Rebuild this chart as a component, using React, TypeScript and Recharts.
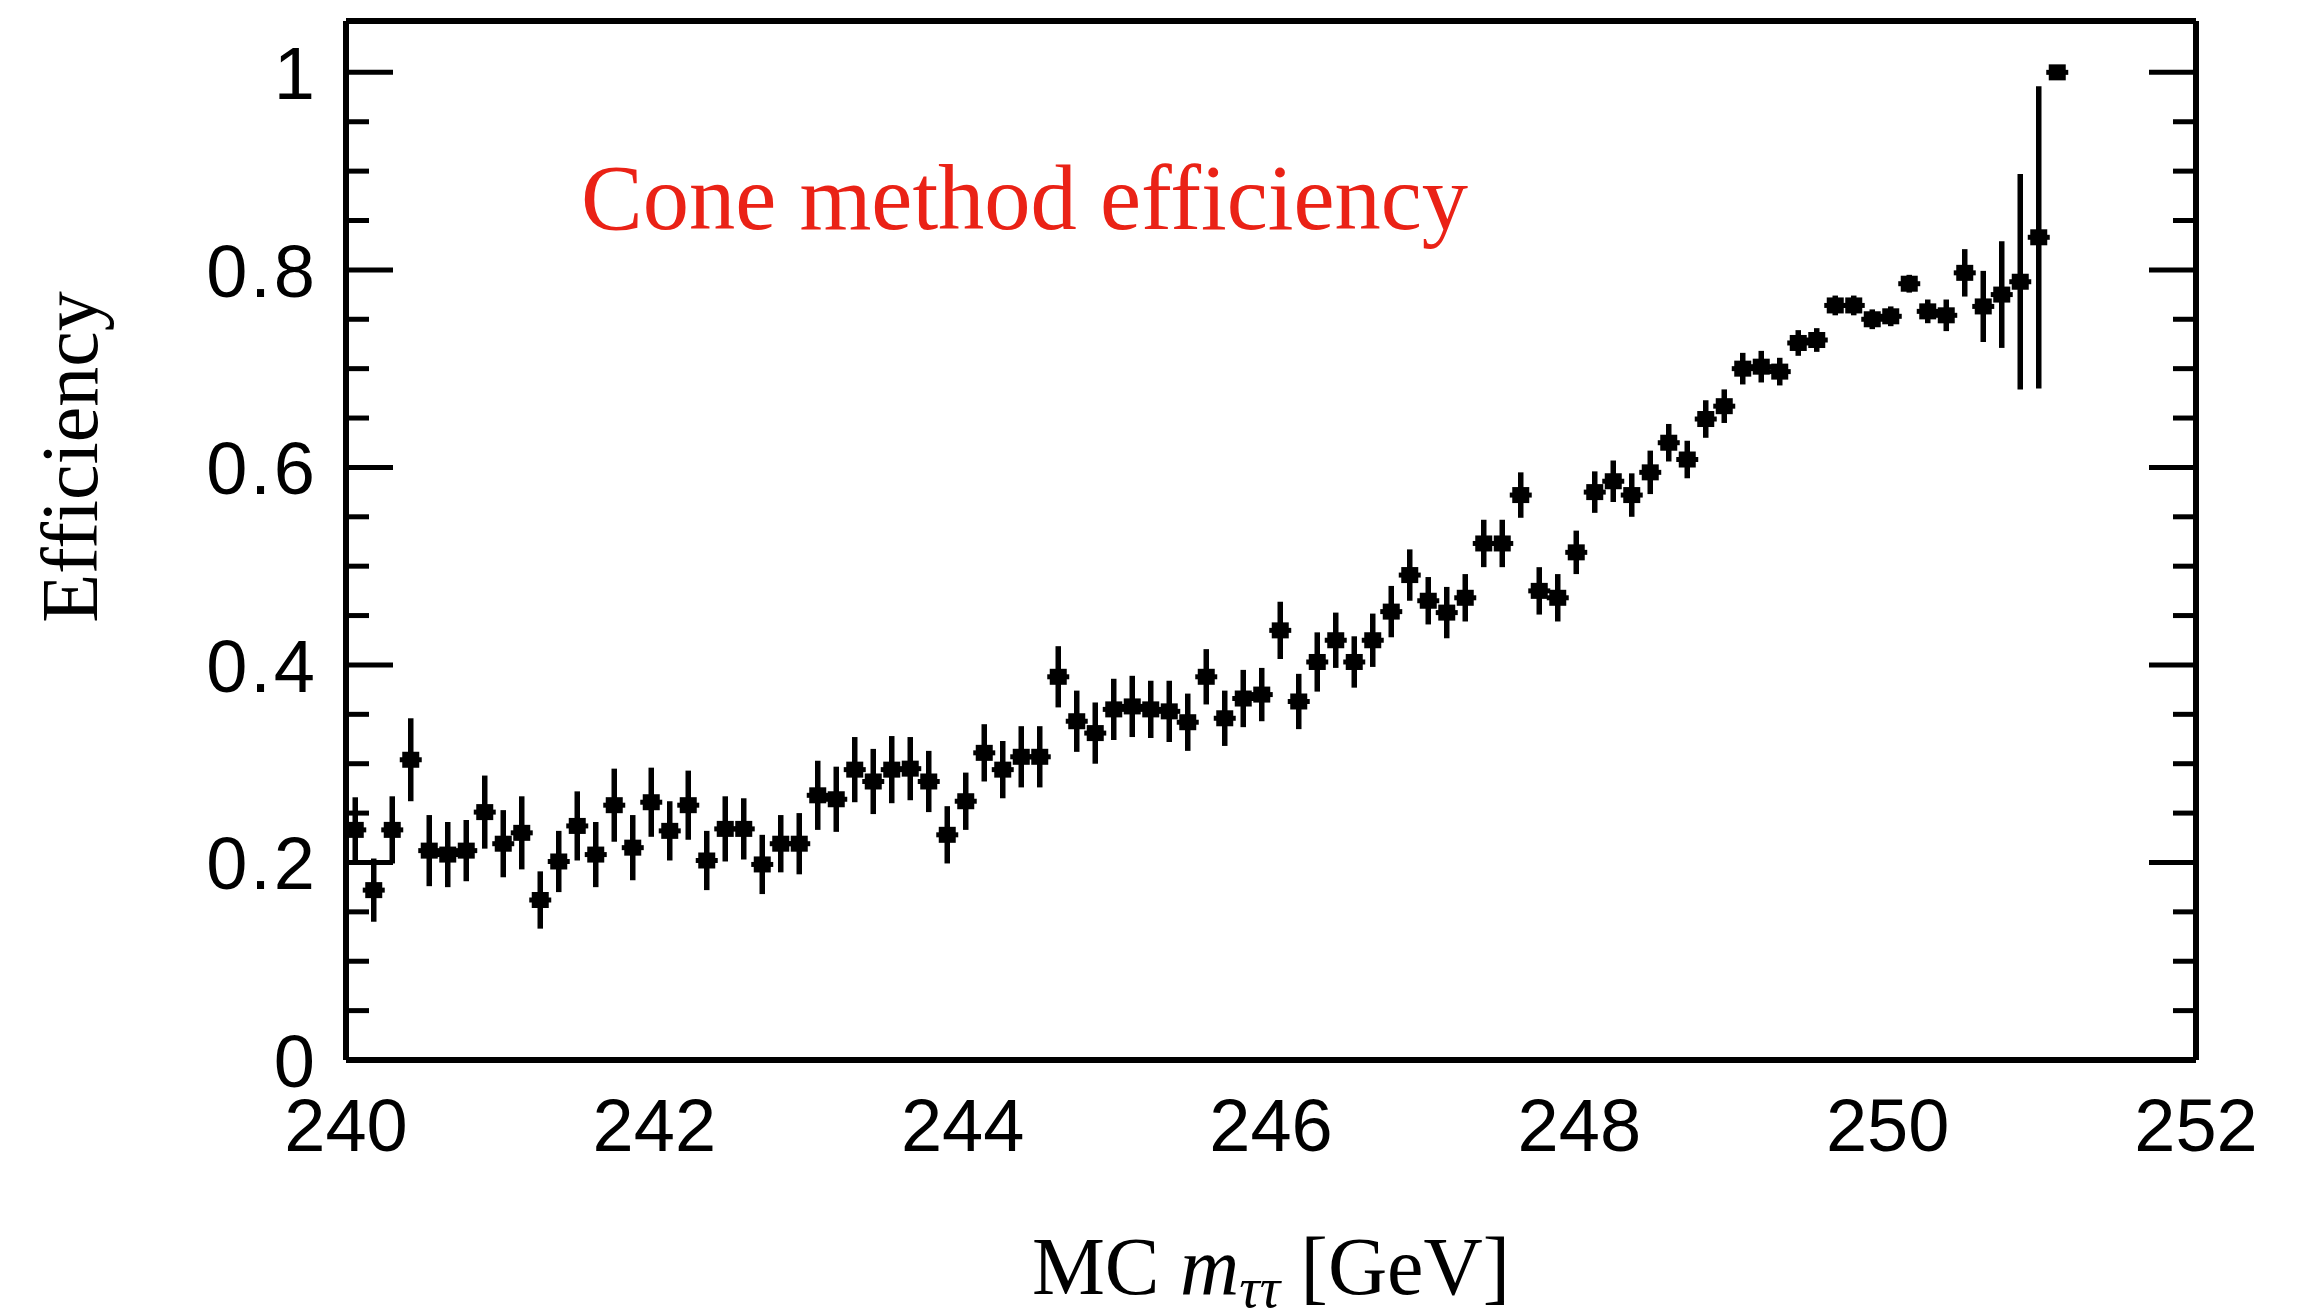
import React from "react";
import { ScatterChart, Scatter, XAxis, YAxis, ErrorBar } from "recharts";

const binCenters = [
  240.06, 240.18, 240.30, 240.42, 240.54, 240.66, 240.78, 240.90, 241.02, 241.14,
  241.26, 241.38, 241.50, 241.62, 241.74, 241.86, 241.98, 242.10, 242.22, 242.34,
  242.46, 242.58, 242.70, 242.82, 242.94, 243.06, 243.18, 243.30, 243.42, 243.54,
  243.66, 243.78, 243.90, 244.02, 244.14, 244.26, 244.38, 244.50, 244.62, 244.74,
  244.86, 244.98, 245.10, 245.22, 245.34, 245.46, 245.58, 245.70, 245.82, 245.94,
  246.06, 246.18, 246.30, 246.42, 246.54, 246.66, 246.78, 246.90, 247.02, 247.14,
  247.26, 247.38, 247.50, 247.62, 247.74, 247.86, 247.98, 248.10, 248.22, 248.34,
  248.46, 248.58, 248.70, 248.82, 248.94, 249.06, 249.18, 249.30, 249.42, 249.54,
  249.66, 249.78, 249.90, 250.02, 250.14, 250.26, 250.38, 250.50, 250.62, 250.74,
  250.86, 250.98, 251.10,
];

const efficiency = [
  0.233, 0.172, 0.233, 0.304, 0.212, 0.208, 0.212, 0.251, 0.219, 0.230,
  0.162, 0.201, 0.237, 0.208, 0.258, 0.215, 0.261, 0.232, 0.258, 0.202,
  0.234, 0.234, 0.198, 0.219, 0.219, 0.268, 0.264, 0.294, 0.282, 0.294,
  0.295, 0.282, 0.228, 0.262, 0.311, 0.294, 0.307, 0.307, 0.388, 0.343,
  0.331, 0.355, 0.358, 0.355, 0.353, 0.342, 0.388, 0.346, 0.366, 0.370,
  0.435, 0.363, 0.403, 0.425, 0.403, 0.425, 0.454, 0.491, 0.465, 0.453,
  0.468, 0.523, 0.523, 0.572, 0.475, 0.468, 0.514, 0.575, 0.586, 0.572,
  0.595, 0.625, 0.608, 0.649, 0.662, 0.700, 0.702, 0.697, 0.726, 0.729,
  0.764, 0.764, 0.750, 0.753, 0.786, 0.758, 0.754, 0.797, 0.763, 0.775,
  0.788, 0.833, 1.000,
];

const errors = [
  0.033, 0.032, 0.034, 0.042, 0.036, 0.033, 0.031, 0.037, 0.034, 0.037,
  0.029, 0.031, 0.035, 0.033, 0.037, 0.033, 0.035, 0.030, 0.035, 0.030,
  0.033, 0.031, 0.030, 0.029, 0.031, 0.035, 0.033, 0.033, 0.033, 0.034,
  0.032, 0.031, 0.029, 0.029, 0.029, 0.029, 0.031, 0.031, 0.031, 0.031,
  0.031, 0.031, 0.031, 0.029, 0.031, 0.029, 0.028, 0.028, 0.029, 0.027,
  0.029, 0.028, 0.030, 0.028, 0.026, 0.027, 0.026, 0.026, 0.024, 0.026,
  0.024, 0.024, 0.024, 0.023, 0.024, 0.024, 0.022, 0.021, 0.021, 0.022,
  0.022, 0.019, 0.019, 0.019, 0.017, 0.016, 0.016, 0.014, 0.013, 0.012,
  0.010, 0.010, 0.010, 0.010, 0.009, 0.012, 0.016, 0.024, 0.036, 0.054,
  0.109, 0.153, 0.0,
];

const xMajorTicks = [240, 242, 244, 246, 248, 250, 252];
const xMinorTicks = [
  240.5, 241, 241.5, 242.5, 243, 243.5, 244.5, 245, 245.5, 246.5, 247, 247.5,
  248.5, 249, 249.5, 250.5, 251, 251.5,
];
const yMajorTicks = [0, 0.2, 0.4, 0.6, 0.8, 1];
const yMinorTicks = [
  0.05, 0.1, 0.15, 0.25, 0.3, 0.35, 0.45, 0.5, 0.55, 0.65, 0.7, 0.75, 0.85, 0.9, 0.95,
];

const xDomain: [number, number] = [240, 252];
const yDomain: [number, number] = [0, 1.052];

const data = binCenters.map((x, i) => ({ x, y: efficiency[i], err: errors[i] }));

const SANS = "'Liberation Sans', Arial, Helvetica, sans-serif";
const SERIF = "'Liberation Serif', 'Times New Roman', serif";

const emptyTick = () => <g />;

const XLabelTick = (p: any) => (
  <text
    x={p.x}
    y={p.y + 91}
    textAnchor="middle"
    fontFamily={SANS}
    fontSize={74}
    fill="#000"
  >
    {p.payload.value}
  </text>
);

const YLabelTick = (p: any) => (
  <text
    x={p.x - 28}
    y={p.y}
    dy="0.36em"
    textAnchor="end"
    fontFamily={SANS}
    fontSize={74}
    letterSpacing={3}
    fill="#000"
  >
    {p.payload.value}
  </text>
);

const Marker = (p: any) => {
  const { cx, cy } = p;
  if (cx == null || cy == null) return <g />;
  return (
    <g>
      <line x1={cx - 11} x2={cx + 11} y1={cy} y2={cy} stroke="#000" strokeWidth={5} />
      <rect x={cx - 8.5} y={cy - 8} width={17} height={16} fill="#000" />
    </g>
  );
};

const axisLineStyle = { stroke: "#000", strokeWidth: 6 };

export default function App() {
  return (
    <div
      style={{
        position: "absolute",
        left: 0,
        top: 0,
        width: 2319,
        height: 1315,
        background: "#fff",
      }}
    >
      <ScatterChart
        width={2319}
        height={1315}
        margin={{ top: 21, right: 123, bottom: 255, left: 346 }}
      >
        <XAxis
          xAxisId="x"
          dataKey="x"
          type="number"
          domain={xDomain}
          allowDataOverflow
          ticks={xMajorTicks}
          orientation="bottom"
          mirror
          height={0.001}
          tickSize={0}
          tickMargin={0}
          tickLine={false}
          axisLine={axisLineStyle}
          tick={XLabelTick}
          interval={0}
        />
        <XAxis
          xAxisId="xbMaj"
          type="number"
          domain={xDomain}
          allowDataOverflow
          ticks={xMajorTicks}
          orientation="bottom"
          mirror
          height={0.001}
          tickSize={30}
          axisLine={false}
          tickLine={{ stroke: "#000", strokeWidth: 4 }}
          tick={emptyTick}
          interval={0}
        />
        <XAxis
          xAxisId="xbMin"
          type="number"
          domain={xDomain}
          allowDataOverflow
          ticks={xMinorTicks}
          orientation="bottom"
          mirror
          height={0.001}
          tickSize={14}
          axisLine={false}
          tickLine={{ stroke: "#000", strokeWidth: 4 }}
          tick={emptyTick}
          interval={0}
        />
        <XAxis
          xAxisId="xtMaj"
          type="number"
          domain={xDomain}
          allowDataOverflow
          ticks={xMajorTicks}
          orientation="top"
          mirror
          height={0.001}
          tickSize={30}
          axisLine={axisLineStyle}
          tickLine={{ stroke: "#000", strokeWidth: 4 }}
          tick={emptyTick}
          interval={0}
        />
        <XAxis
          xAxisId="xtMin"
          type="number"
          domain={xDomain}
          allowDataOverflow
          ticks={xMinorTicks}
          orientation="top"
          mirror
          height={0.001}
          tickSize={14}
          axisLine={false}
          tickLine={{ stroke: "#000", strokeWidth: 4 }}
          tick={emptyTick}
          interval={0}
        />

        <YAxis
          yAxisId="y"
          dataKey="y"
          type="number"
          domain={yDomain}
          allowDataOverflow
          ticks={yMajorTicks}
          orientation="left"
          mirror
          width={0.001}
          tickSize={0}
          tickMargin={0}
          tickLine={false}
          axisLine={axisLineStyle}
          tick={YLabelTick}
          interval={0}
        />
        <YAxis
          yAxisId="ylMaj"
          type="number"
          domain={yDomain}
          allowDataOverflow
          ticks={yMajorTicks}
          orientation="left"
          mirror
          width={0.001}
          tickSize={47}
          axisLine={false}
          tickLine={{ stroke: "#000", strokeWidth: 5 }}
          tick={emptyTick}
          interval={0}
        />
        <YAxis
          yAxisId="ylMin"
          type="number"
          domain={yDomain}
          allowDataOverflow
          ticks={yMinorTicks}
          orientation="left"
          mirror
          width={0.001}
          tickSize={23}
          axisLine={false}
          tickLine={{ stroke: "#000", strokeWidth: 5 }}
          tick={emptyTick}
          interval={0}
        />
        <YAxis
          yAxisId="yrMaj"
          type="number"
          domain={yDomain}
          allowDataOverflow
          ticks={yMajorTicks}
          orientation="right"
          mirror
          width={0.001}
          tickSize={47}
          axisLine={axisLineStyle}
          tickLine={{ stroke: "#000", strokeWidth: 5 }}
          tick={emptyTick}
          interval={0}
        />
        <YAxis
          yAxisId="yrMin"
          type="number"
          domain={yDomain}
          allowDataOverflow
          ticks={yMinorTicks}
          orientation="right"
          mirror
          width={0.001}
          tickSize={23}
          axisLine={false}
          tickLine={{ stroke: "#000", strokeWidth: 5 }}
          tick={emptyTick}
          interval={0}
        />

        <Scatter
          xAxisId="x"
          yAxisId="y"
          data={data}
          dataKey="y"
          shape={Marker}
          isAnimationActive={false}
        >
          <ErrorBar
            dataKey="err"
            direction="y"
            width={0}
            stroke="#000"
            strokeWidth={5.5}
            isAnimationActive={false}
          />
        </Scatter>

        <g>
          <text
            x={581}
            y={229}
            fontFamily={SERIF}
            fontSize={92.5}
            fill="#ea2216"
          >
            Cone method efficiency
          </text>
          <text
            x={97}
            y={457}
            transform="rotate(-90, 97, 457)"
            textAnchor="middle"
            fontFamily={SERIF}
            fontSize={80}
            fill="#000"
          >
            Efficiency
          </text>
          <text
            x={1271}
            y={1294}
            textAnchor="middle"
            fontFamily={SERIF}
            fontSize={82}
            fill="#000"
          >
            MC{" "}
            <tspan fontStyle="italic">m</tspan>
            <tspan fontStyle="italic" fontSize={57} dy={13}>
              ττ
            </tspan>
            <tspan dy={-13}> [GeV]</tspan>
          </text>
        </g>
      </ScatterChart>
    </div>
  );
}
